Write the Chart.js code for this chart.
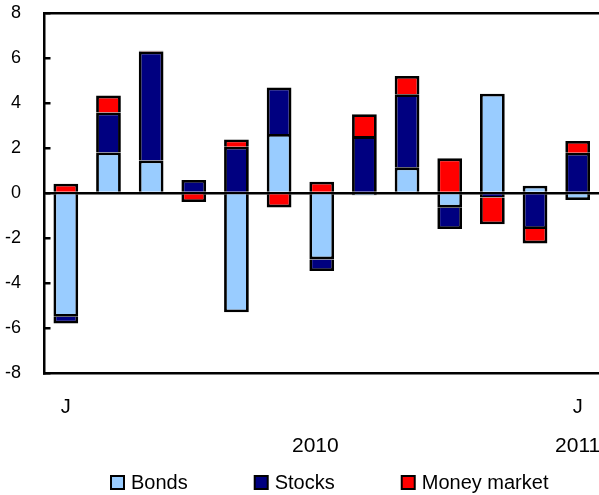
<!DOCTYPE html>
<html><head><meta charset="utf-8">
<script src="https://cdn.jsdelivr.net/npm/chart.js@4/dist/chart.umd.min.js"></script>
<style>html,body{margin:0;padding:0;background:#fff}#wrap{width:599px;height:495px;position:relative}</style>
</head><body><div id="wrap"><canvas id="c" width="599" height="495"></canvas></div>
<script>
const categories = ['Jan 2010','Feb 2010','Mar 2010','Apr 2010','May 2010','Jun 2010','Jul 2010','Aug 2010','Sep 2010','Oct 2010','Nov 2010','Dec 2010','Jan 2011'];
const monthTickLabels = ['J','','','','','','','','','','','','J'];
const yearTickLabels = ['2010','2011'];
const yearTickValues = [5.85, 12];
const bonds = [-5.5, 1.8, 1.45, 0, -5.3, 2.62, -2.95, -0.1, 1.14, -0.65, 4.41, 0.32, -0.31];
const stocks = [-0.3, 1.78, 4.84, 0.58, 2.06, 2.07, -0.52, 2.53, 3.25, -0.95, -0.2, -1.6, 1.79];
const moneyMarket = [0.41, 0.75, 0.03, -0.4, 0.32, -0.64, 0.5, 0.97, 0.81, 1.54, -1.19, -0.64, 0.52];
const seriesNames = ['Bonds','Stocks','Money market'];
const seriesColors = ['#99CCFF','#000080','#FF0000'];

const FONT = '"Liberation Sans", Arial, sans-serif';
Chart.defaults.font.family = FONT;
Chart.defaults.color = '#000';

const legendPlugin = {
  id: 'customLegend',
  afterDraw(chart) {
    const ctx = chart.ctx;
    ctx.save();
    ctx.font = '20px ' + FONT;
    ctx.textBaseline = 'middle';
    ctx.textAlign = 'left';
    let x = 110;
    const y = 475, box = 15, gap = 66;
    chart.data.datasets.forEach(ds => {
      ctx.fillStyle = '#000';
      ctx.fillRect(x, y, box, box);
      ctx.fillStyle = ds.backgroundColor;
      ctx.fillRect(x + 2, y + 2, box - 4, box - 4);
      ctx.fillStyle = '#000';
      const tx = x + box + 6;
      ctx.fillText(ds.label, tx, y + box / 2 + 1);
      x = tx + ctx.measureText(ds.label).width + gap;
    });
    ctx.restore();
  }
};

const values = [bonds, stocks, moneyMarket];
new Chart(document.getElementById('c'), {
  type: 'bar',
  data: {
    labels: categories,
    datasets: values.map((v, i) => ({
      label: seriesNames[i],
      data: v,
      backgroundColor: seriesColors[i],
      borderColor: '#000',
      borderWidth: 2.8,
      borderSkipped: 'start',
      inflateAmount: 0,
      barPercentage: 0.58,
      categoryPercentage: 1
    }))
  },
  options: {
    responsive: false,
    animation: false,
    devicePixelRatio: 1,
    layout: { padding: { top: 13, left: 5, right: -2, bottom: 36 } },
    plugins: { legend: { display: false }, tooltip: { enabled: false } },
    scales: {
      x: {
        stacked: true, offset: true, weight: 0,
        grid: { display: true, drawOnChartArea: false, drawTicks: false },
        border: { display: true, color: '#000', width: 2.5 },
        ticks: { autoSkip: false, maxRotation: 0, color: '#000', font: { size: 20 }, padding: 22,
          callback: (v, i) => monthTickLabels[i] },
        afterFit: s => { s.paddingLeft = 0; s.paddingRight = 0; s.paddingTop = 0; s.paddingBottom = 0; s.height = 46; }
      },
      x2: {
        type: 'linear', position: 'bottom', min: -0.5, max: 12.5, weight: 1, offset: false,
        grid: { display: true, drawOnChartArea: false, drawTicks: false, offset: false },
        border: { display: false },
        ticks: { autoSkip: false, maxRotation: 0, color: '#000', font: { size: 21 }, padding: 15,
          callback: (v, i) => yearTickLabels[i] },
        afterBuildTicks: s => { s.ticks = yearTickValues.map(v => ({ value: v })); },
        afterFit: s => { s.paddingLeft = 0; s.paddingRight = 0; s.paddingTop = 0; s.paddingBottom = 0; s.height = 40; }
      },
      y: {
        stacked: true, min: -8, max: 8, z: 1,
        ticks: { stepSize: 2, color: '#000', font: { size: 18 }, padding: 29.5 },
        grid: {
          color: c => (c.tick && (c.tick.value === 0 || c.tick.value === 8)) ? '#000' : 'rgba(0,0,0,0)',
          lineWidth: 2.5, tickColor: '#000', tickWidth: 2.5, tickLength: -6
        },
        border: { display: true, color: '#000', width: 2.5 },
        afterFit: s => { s.width = 39.5; s.paddingTop = 0; s.paddingBottom = 0; }
      }
    }
  },
  plugins: [legendPlugin]
});
</script>
</body></html>
